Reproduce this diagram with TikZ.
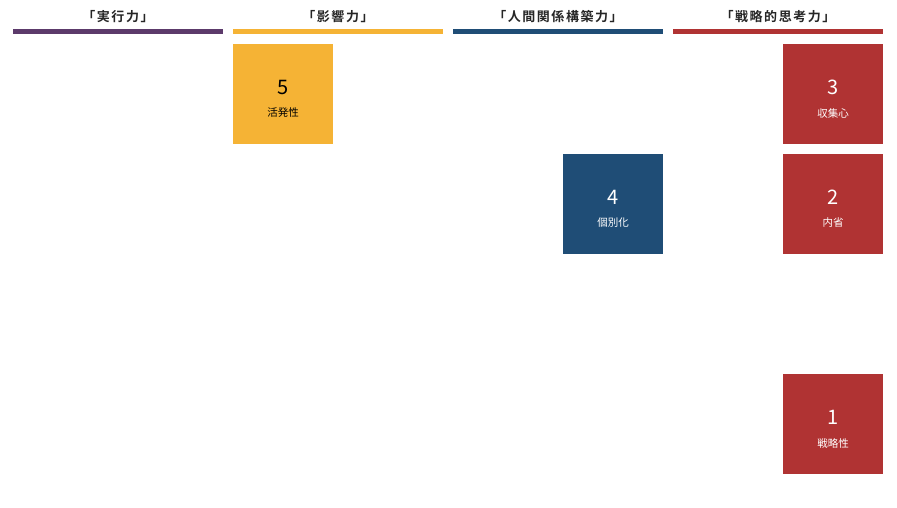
\documentclass[tikz,border=0pt]{standalone}
\usepackage{fontspec}
\setmainfont{Noto Sans CJK JP}
\newfontfamily\jpbold[LetterSpace=12]{Noto Sans CJK JP Bold}
\definecolor{cpurple}{HTML}{5C3A6B}
\definecolor{corange}{HTML}{F5B335}
\definecolor{cblue}{HTML}{1F4D76}
\definecolor{cred}{HTML}{B03333}
\begin{document}
\begin{tikzpicture}[x=1pt,y=-1pt,
  head/.style={font=\jpbold\fontsize{13}{14}\selectfont, text=black!85, anchor=center, inner sep=0},
  bar/.style={minimum width=210pt, minimum height=4.5pt, inner sep=0, anchor=north west},
  tile/.style={minimum width=100pt, minimum height=100pt, inner sep=0, anchor=north west},
  num/.style={font=\fontsize{20}{22}\selectfont, anchor=center, inner sep=0},
  lab/.style={font=\fontsize{10.5}{12}\selectfont, anchor=center, inner sep=0}]
\useasboundingbox[fill=white] (0,0) rectangle (897,507);
% headers
\node[head] (h1) at (118,17) {「実行力」};
\node[head] (h2) at (338,17) {「影響力」};
\node[head] (h3) at (558,17) {「人間関係構築力」};
\node[head] (h4) at (778,17) {「戦略的思考力」};
\node[bar, fill=cpurple] (b1) at (13,29) {};
\node[bar, fill=corange] (b2) at (233,29) {};
\node[bar, fill=cblue] (b3) at (453,29) {};
\node[bar, fill=cred] (b4) at (673,29) {};
% tiles
\node[tile, fill=corange] (t5) at (233,44) {};
\node[num, text=black] (n5) at (283,87) {5};
\node[lab, text=black] (l5) at (283,113) {活発性};
\node[tile, fill=cblue] (t4) at (563,154) {};
\node[num, text=white] (n4) at (613,197) {4};
\node[lab, text=white] (l4) at (613,223) {個別化};
\node[tile, fill=cred] (t3) at (783,44) {};
\node[num, text=white] (n3) at (833,87) {3};
\node[lab, text=white] (l3) at (833,113) {収集心};
\node[tile, fill=cred] (t2) at (783,154) {};
\node[num, text=white] (n2) at (833,197) {2};
\node[lab, text=white] (l2) at (833,223) {内省};
\node[tile, fill=cred] (t1) at (783,374) {};
\node[num, text=white] (n1) at (833,417) {1};
\node[lab, text=white] (l1) at (833,443) {戦略性};
\end{tikzpicture}
\end{document}
